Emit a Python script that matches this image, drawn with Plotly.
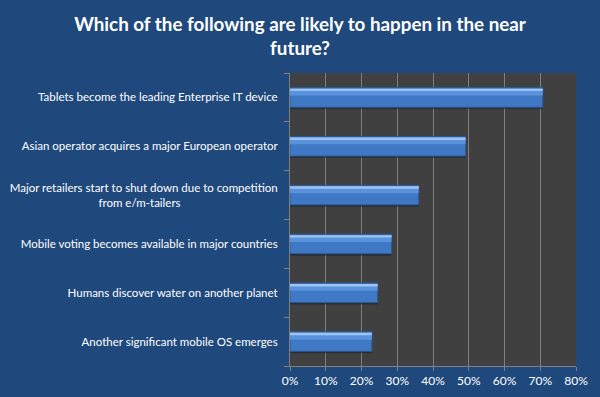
import plotly.graph_objects as go

NBSP = "\u00a0"
categories = [
    "Another significant mobile OS emerges",
    "Humans discover water on another planet",
    "Mobile voting becomes available in major countries",
    "Major retailers start to shut down due to competition<br>from e/m-tailers" + NBSP * 33,
    "Asian operator acquires a major European operator",
    "Tablets become the leading Enterprise IT device",
]
values = [0.229, 0.245, 0.284, 0.360, 0.491, 0.707]
x_ticks = [0, 0.1, 0.2, 0.3, 0.4, 0.5, 0.6, 0.7, 0.8]
title_text = "Which of the following are likely to happen in the near<br>future?"

FONT = "Lato"
BG = "#1F497D"

fig = go.Figure()
# shadow
fig.add_trace(go.Bar(
    y=categories, x=values, orientation="h",
    width=0.40, offset=-0.24,
    marker=dict(color="rgba(20,30,45,0.55)", line=dict(width=0)),
    hoverinfo="skip", showlegend=False,
))
# main bar
fig.add_trace(go.Bar(
    y=categories, x=values, orientation="h",
    width=0.40, offset=-0.20,
    marker=dict(color="#3F78C4", line=dict(color="#2D5A94", width=1)),
    showlegend=False,
))
# lighter upper body
fig.add_trace(go.Bar(
    y=categories, x=values, orientation="h",
    width=0.14, offset=0.04,
    marker=dict(color="#5A93DC", line=dict(width=0)),
    hoverinfo="skip", showlegend=False,
))
# highlight
fig.add_trace(go.Bar(
    y=categories, x=values, orientation="h",
    width=0.05, offset=0.13,
    marker=dict(color="#9CC3F2", line=dict(width=0)),
    hoverinfo="skip", showlegend=False,
))

fig.update_layout(
    width=600, height=397,
    paper_bgcolor=BG, plot_bgcolor="#404040",
    margin=dict(l=290, r=24, t=73, b=31, autoexpand=False),
    barmode="overlay",
    title=dict(
        text="<b>" + title_text + "</b>",
        x=0.5, xanchor="center", y=0.922, yanchor="top",
        font=dict(family=FONT, size=18.8, color="white"),
    ),
    font=dict(family=FONT, color="white", size=11.5),
)
fig.update_xaxes(
    range=[0, 0.8], tickvals=x_ticks, tickformat=".0%",
    showgrid=True, gridcolor="#7F7F7F", gridwidth=1,
    zeroline=False, showline=True, linecolor="#7F7F7F",
    ticks="outside", ticklen=4, tickcolor="#7F7F7F",
    tickfont=dict(family=FONT, size=12, color="white"),
)
fig.update_yaxes(
    categoryorder="array", categoryarray=categories,
    showgrid=False, zeroline=False,
    showline=True, linecolor="#7F7F7F",
    ticks="outside", ticklen=5, tickcolor="#7F7F7F", tickson="boundaries",
    ticklabelstandoff=9,
    tickfont=dict(family=FONT, size=11.5, color="white"),
)

fig.write_html(
    "out.html",
    config={"displayModeBar": False},
    post_script=["document.body.style.margin='0px';document.body.style.background='#1F497D';"],
)
